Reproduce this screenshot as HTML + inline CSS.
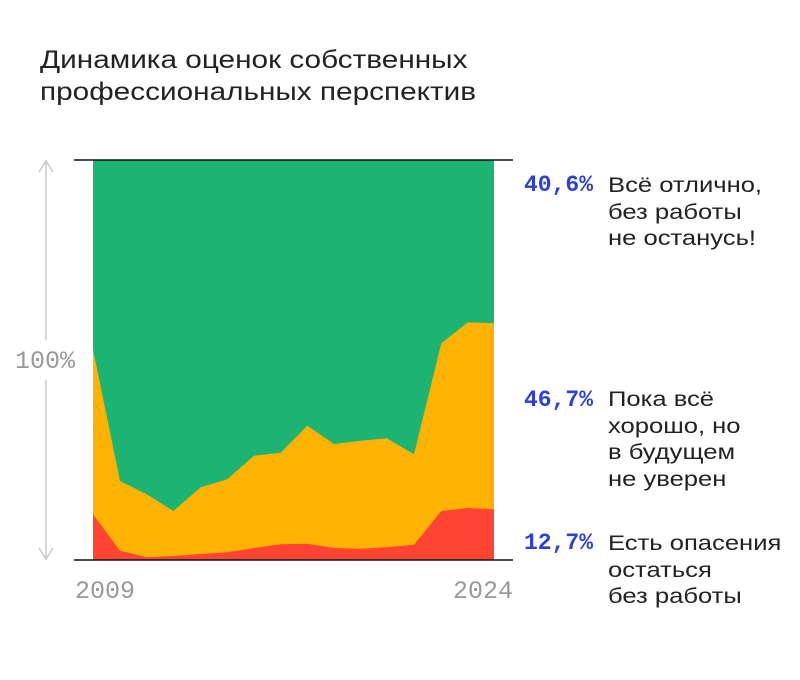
<!DOCTYPE html>
<html><head><meta charset="utf-8"><style>
body{margin:0;width:800px;height:680px;background:#fff;overflow:hidden;position:relative;font-family:"Liberation Sans","DejaVu Sans",sans-serif;}
.t{position:absolute;left:40px;top:44px;font-size:25px;line-height:32px;color:#222;transform:scaleX(1.19);transform-origin:0 0;white-space:nowrap;}
.p{position:absolute;left:524px;font-family:"Liberation Mono",monospace;font-weight:bold;font-size:23px;color:#2c3fd8;line-height:27px;}
.l{position:absolute;left:608px;font-size:21.5px;line-height:26.5px;color:#222;transform:scaleX(1.19);transform-origin:0 0;white-space:nowrap;}
.g{position:absolute;font-family:"Liberation Mono",monospace;font-size:25px;color:#999;}
</style></head><body>
<div class="t">Динамика оценок собственных<br>профессиональных перспектив</div>
<svg width="800" height="680" style="position:absolute;left:0;top:0">
<polygon fill="#1db373" points="93,160 494,160 494,560 93,560"/>
<polygon fill="#ffb300" points="93,349.3 120,481 146.7,494.3 173.3,511 200.7,487.3 227.3,479.3 254,455.7 280.7,452.7 307.3,425.7 334,444 360.7,440.7 386.7,438.3 414,454.3 441.3,343.3 468,322.3 494,323.3 494,560 93,560"/>
<polygon fill="#ff4433" points="93,514.3 120,550.7 146.7,557.3 173.3,556 200.7,554 227.3,552.3 254,548 280.7,544.3 307.3,543.7 334,548 360.7,548.7 386.7,547.3 414,544.7 441.3,511 468,508 494,509.3 494,560 93,560"/>
<line x1="74" y1="160" x2="513" y2="160" stroke="#111" stroke-width="1.5"/>
<line x1="74" y1="560" x2="513" y2="560" stroke="#111" stroke-width="1.5"/>
<line x1="46" y1="161" x2="46" y2="340" stroke="#c8c8c8" stroke-width="1.5"/>
<line x1="46" y1="380" x2="46" y2="559" stroke="#c8c8c8" stroke-width="1.5"/>
<polyline points="39,172 46,161 53,172" fill="none" stroke="#c8c8c8" stroke-width="1.5"/>
<polyline points="39,548 46,559 53,548" fill="none" stroke="#c8c8c8" stroke-width="1.5"/>
</svg>
<div class="g" style="left:15px;top:347px">100%</div>
<div class="g" style="left:75px;top:577px">2009</div>
<div class="g" style="left:453px;top:577px">2024</div>
<div class="p" style="top:172px">40,6%</div>
<div class="l" style="top:172px">Всё отлично,<br>без работы<br>не останусь!</div>
<div class="p" style="top:387px">46,7%</div>
<div class="l" style="top:386px">Пока всё<br>хорошо, но<br>в будущем<br>не уверен</div>
<div class="p" style="top:530px">12,7%</div>
<div class="l" style="top:530px">Есть опасения<br>остаться<br>без работы</div>
</body></html>
